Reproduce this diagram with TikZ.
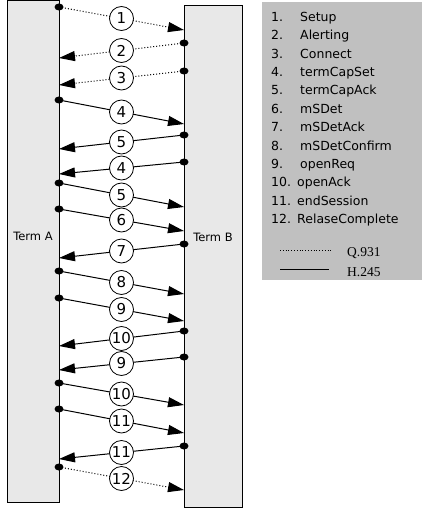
\documentclass[tikz,border=0pt]{standalone}
\usepackage{fontspec}
\setmainfont{DejaVu Sans}
\newfontfamily\legserif{Liberation Serif}
\usetikzlibrary{arrows.meta}
\definecolor{termgray}{HTML}{E8E8E8}
\definecolor{leggray}{HTML}{C0C0C0}
\begin{document}
\begin{tikzpicture}[x=1pt,y=-1pt,
  termbox/.style={draw=black, fill=termgray, line width=1pt, anchor=north west, inner sep=0pt},
  termlbl/.style={anchor=base, font=\fontsize{11.5}{12}\selectfont},
  msgnum/.style={circle, draw=black, solid, fill=white, line width=0.8pt, minimum size=24pt, inner sep=0pt, font=\fontsize{15}{15}\selectfont},
  h245/.style={line width=1pt, -{Triangle[length=16pt,width=10pt]}},
  q931/.style={h245, dotted},
  startdot/.style={fill=black},
  legtext/.style={anchor=base west, inner sep=0pt, font=\fontsize{12.5}{13}\selectfont},
  legq/.style={anchor=base west, inner sep=0pt, font=\legserif\fontsize{13.5}{14}\selectfont},
]
\useasboundingbox (0,0) rectangle (429,508);
% terminals
\node[termbox, minimum width=52pt, minimum height=501pt] (termA) at (7,0.5) {};
\node[termbox, minimum width=58pt, minimum height=502pt] (termB) at (184,5) {};
\node[termlbl] (lblA) at (33,240) {Term A};
\node[termlbl] (lblB) at (213,241) {Term B};
% messages
\foreach \xs/\ys/\xe/\ye/\lab/\sty [count=\i] in {
  59/7/184/30/1/q931,
  184/43/59/58/2/q931,
  184/71/59/85/3/q931,
  59/100/184/124/4/h245,
  184/135/59/149/5/h245,
  184/162/59/174/4/h245,
  59/183/184/207/5/h245,
  59/209/184/231/6/h245,
  184/244/59/258/7/h245,
  59/271/184/294/8/h245,
  59/298/184/321/9/h245,
  184/331/59/346/10/h245,
  184/357/59/370/9/h245,
  59/383/184/405/10/h245,
  59/409/184/433/11/h245,
  184/446/59/459/11/h245,
  59/467/184/490/12/q931}
{
  \coordinate (s\i) at (\xs,\ys);
  \coordinate (e\i) at (\xe,\ye);
  \draw[\sty] (s\i) -- node[msgnum] (m\i) {\lab} (e\i);
  \fill[startdot] (s\i) ellipse [x radius=4.5, y radius=3.5];
}
% legend
\node[fill=leggray, minimum width=160pt, minimum height=278pt, anchor=north west, inner sep=0pt] (legend) at (262,2) {};
\foreach \k/\t/\tx [count=\i] in {
  1/Setup/300, 2/Alerting/300, 3/Connect/300, 4/termCapSet/300,
  5/termCapAck/300, 6/mSDet/300, 7/mSDetAck/300, 8/mSDetConfirm/300,
  9/openReq/300, 10/openAck/297, 11/endSession/297, 12/RelaseComplete/297}
{
  \node[legtext] (ln\i) at (271,{21.5+(\i-1)*18.375}) {\k.};
  \node[legtext] (lt\i) at (\tx,{21.5+(\i-1)*18.375}) {\t};
}
\coordinate (qa) at (280,250);
\coordinate (qb) at (333,250);
\coordinate (ha) at (280,269);
\coordinate (hb) at (329,269);
\draw[dotted, line width=0.8pt] (qa) -- (qb);
\draw[line width=1pt] (ha) -- (hb);
\node[legq] (lq) at (347,256) {Q.931};
\node[legq] (lh) at (347,276) {H.245};
\end{tikzpicture}
\end{document}
